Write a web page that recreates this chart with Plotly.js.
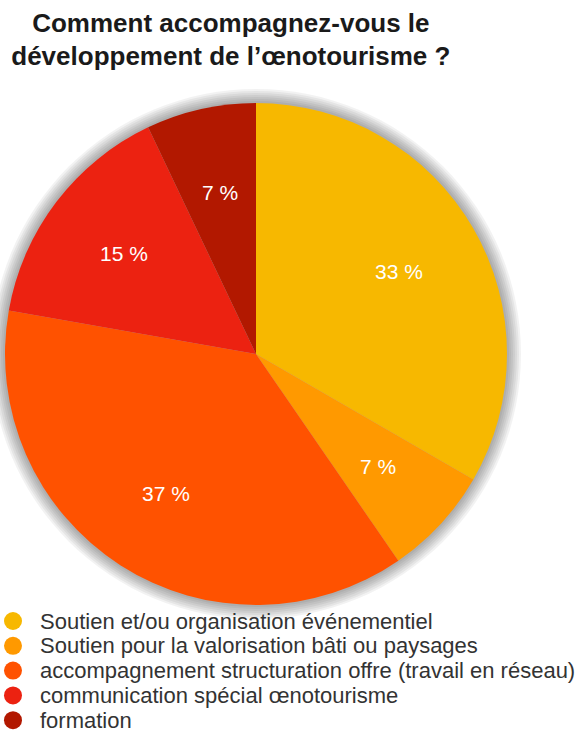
<!DOCTYPE html>
<html>
<head>
<meta charset="utf-8">
<script src="https://cdn.plot.ly/plotly-3.0.1.min.js"></script>
<style>
html,body{margin:0;padding:0;background:#fff;}
#chart{width:583px;height:733px;}
</style>
</head>
<body>
<div id="chart"></div>
<script>
const categories = [
  "Soutien et/ou organisation événementiel",
  "Soutien pour la valorisation bâti ou paysages",
  "accompagnement structuration offre (travail en réseau)",
  "communication spécial œnotourisme",
  "formation"
];
const percentages = [33, 7, 37, 15, 7];
const colors = ["#F7B800", "#FF9900", "#FF5200", "#EC2211", "#B21800"];
const titleText = "Comment accompagnez-vous le<br>développement de l’œnotourisme ?";

const W = 583, H = 733;
const M = {l: 5, r: 76, t: 103, b: 128};
const plotW = W - M.l - M.r, plotH = H - M.t - M.b;
const px2x = px => (px - M.l) / plotW;
const py2y = py => 1 - (py - M.t) / plotH;

const pie = {
  type: "pie",
  labels: categories,
  values: percentages,
  sort: false,
  direction: "clockwise",
  rotation: 0,
  marker: {colors: colors, line: {width: 0}},
  textinfo: "none",
  showlegend: false,
  hoverinfo: "none",
  domain: {x: [0, 1], y: [0, 1]}
};

const annotations = [];
const shapes = [];

// percentage labels at ~2/3 of the radius, on each slice's mid-angle
const total = percentages.reduce((a, b) => a + b, 0);
const Rpx = Math.min(plotW, plotH) / 2;
let cum = 0;
percentages.forEach(v => {
  const mid = (cum + v / 2) / total * 2 * Math.PI;
  cum += v;
  const r = 0.66 * Rpx;
  annotations.push({
    xref: "paper", yref: "paper",
    x: 0.5 + r * Math.sin(mid) / plotW,
    y: 0.5 + r * Math.cos(mid) / plotH,
    text: v + " %",
    showarrow: false,
    font: {family: "Liberation Sans, Arial, sans-serif", size: 21, color: "#ffffff"},
    xanchor: "center", yanchor: "middle"
  });
});

// soft shadow around the pie
for (let k = 14; k >= 1; k -= 2) {
  shapes.push({
    type: "circle", xref: "paper", yref: "paper", layer: "below",
    x0: 0.5 - (Rpx + k) / plotW, x1: 0.5 + (Rpx + k) / plotW,
    y0: 0.5 - (Rpx + k) / plotH, y1: 0.5 + (Rpx + k) / plotH,
    fillcolor: "rgba(0,0,0,0.05)", line: {width: 0}
  });
}

// legend: round markers with compact rows
const legTop = 621, legStep = 24.8, legDot = 9, legDotX = 13, legTextX = 38;
categories.forEach((c, i) => {
  const cy = legTop + i * legStep;
  shapes.push({
    type: "circle", xref: "paper", yref: "paper", layer: "above",
    x0: px2x(legDotX - legDot), x1: px2x(legDotX + legDot),
    y0: py2y(cy + legDot), y1: py2y(cy - legDot),
    fillcolor: colors[i], line: {width: 0}
  });
  annotations.push({
    xref: "paper", yref: "paper",
    x: px2x(legTextX), y: py2y(cy),
    xanchor: "left", yanchor: "middle",
    text: c, showarrow: false,
    font: {family: "Liberation Sans, Arial, sans-serif", size: 22, color: "#333333"}
  });
});

const layout = {
  width: W,
  height: H,
  margin: {l: M.l, r: M.r, t: M.t, b: M.b, autoexpand: false},
  paper_bgcolor: "#ffffff",
  title: {
    text: titleText,
    font: {family: "Liberation Sans, Arial, sans-serif", size: 26, color: "#1a1a1a", weight: "bold"},
    x: 0.396, xanchor: "center", xref: "container",
    y: 0.957, yanchor: "top", yref: "container"
  },
  showlegend: false,
  annotations: annotations,
  shapes: shapes
};

Plotly.newPlot("chart", [pie], layout, {displayModeBar: false, staticPlot: true});
</script>
</body>
</html>
